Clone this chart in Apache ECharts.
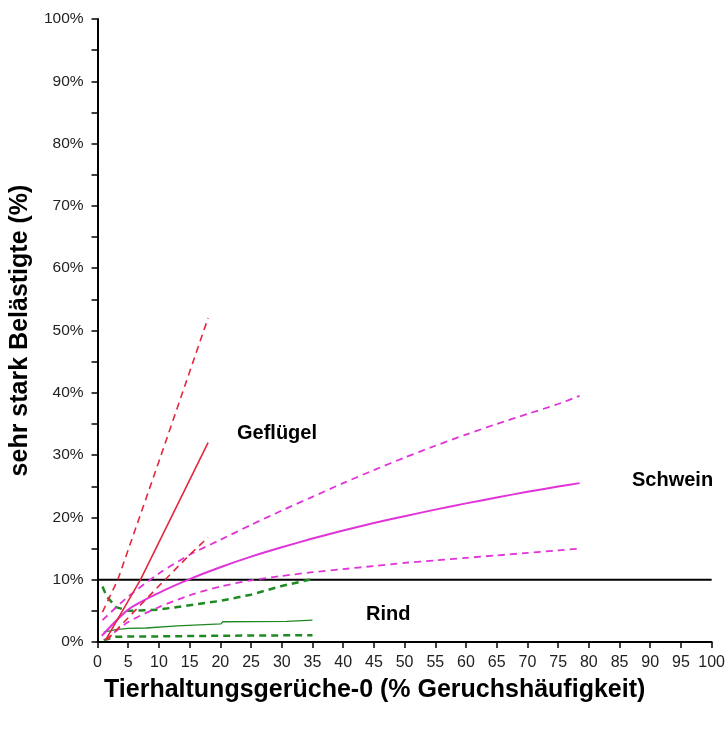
<!DOCTYPE html>
<html>
<head>
<meta charset="utf-8">
<script src="https://cdn.jsdelivr.net/npm/echarts@6/dist/echarts.min.js"></script>
<style>
html,body{margin:0;padding:0;background:#fff;}
#chart{width:728px;height:729px;}
</style>
</head>
<body>
<div id="chart"></div>
<script>
// ---- Data (x: % Geruchshäufigkeit, y: % sehr stark Belästigte) ----
const xTicks = [0,5,10,15,20,25,30,35,40,45,50,55,60,65,70,75,80,85,90,95,100];

const gefluegelX      = [1.3, 7, 18];
const gefluegelY      = [0.3, 10, 32];
const gefluegelUpperX = [0.8, 3.3, 10, 18];
const gefluegelUpperY = [4.8, 10, 29, 52];
const gefluegelLowerX = [1.5, 5, 10, 15, 18];
const gefluegelLowerY = [0.3, 3.9, 9.0, 14, 16.8];

const schweinX      = [0.7, 5, 10, 15, 20, 25, 30, 35, 40, 45, 50, 55, 60, 65, 70, 75, 78.5];
const schweinY      = [1.0, 5.2, 7.9, 10.1, 12.0, 13.7, 15.2, 16.6, 17.9, 19.1, 20.2, 21.25, 22.25, 23.2, 24.1, 24.95, 25.5];
const schweinUpperX = [0.8, 5, 10, 15, 20, 25, 30, 35, 40, 45, 50, 55, 60, 65, 70, 75, 78.5];
const schweinUpperY = [3.5, 7.3, 11, 14, 16.4, 18.8, 21.1, 23.3, 25.5, 27.6, 29.6, 31.5, 33.3, 35.0, 36.6, 38.2, 39.5];
const schweinLowerX = [1.2, 5, 10, 15, 20, 25, 30, 35, 40, 45, 50, 55, 60, 65, 70, 75, 78.5];
const schweinLowerY = [0.3, 3.2, 5.6, 7.5, 8.9, 9.9, 10.6, 11.2, 11.7, 12.2, 12.7, 13.1, 13.5, 13.9, 14.3, 14.7, 15.0];

const rindX      = [1, 3, 5, 7.9, 8.2, 13, 13.3, 20.1, 20.4, 30.8, 31.1, 35];
const rindY      = [1.6, 2.0, 2.2, 2.25, 2.55, 2.6, 2.85, 2.9, 3.25, 3.3, 3.5, 3.5];
const rindUpperX = [0.8, 1.5, 3, 5, 10, 15, 20, 25, 30, 35];
const rindUpperY = [8.9, 7.3, 5.6, 5.0, 5.2, 5.9, 6.6, 7.6, 9.0, 10.1];
const rindLowerX = [1, 3, 10, 20, 35];
const rindLowerY = [0.3, 0.85, 0.9, 1.0, 1.1];

const refLineX = [0, 100];
const refLineY = [10, 10];

const labels = [
  { text: 'Geflügel', x: 237, y: 433 },
  { text: 'Schwein',  x: 632, y: 480 },
  { text: 'Rind',     x: 366, y: 614 }
];

// ---- Build ----
function pairs(xs, ys){ return xs.map((x,i)=>[x, ys[i]]); }

const RED = '#e5263f';
const MAG = '#e034d8';
const GREEN = '#1f8a24';

function lineSeries(name, xs, ys, color, width, dashed, smooth, z){
  return {
    name: name, type: 'line', data: pairs(xs, ys),
    showSymbol: false, symbol: 'none', smooth: smooth ? 0.25 : false,
    lineStyle: { color: color, width: width, type: dashed ? dashed : 'solid' },
    silent: true, animation: false, z: z || 2
  };
}

const chart = echarts.init(document.getElementById('chart'), null, {renderer: 'canvas'});
const axisCommon = {
  axisLine: { show: true, onZero: false, lineStyle: { color: '#000', width: 2 } },
  axisTick: { show: true, inside: false, length: 6, lineStyle: { color: '#000', width: 1.5 } },
  splitLine: { show: false }
};

chart.setOption({
  backgroundColor: '#fff',
  animation: false,
  grid: { left: 96, right: 14, top: 19, bottom: 87, containLabel: false },
  xAxis: Object.assign({
    type: 'value', min: 0, max: 100, interval: 5,
    axisLabel: { color: '#222', fontFamily: 'Liberation Sans, Arial', fontSize: 16, margin: 13, showMaxLabel: true,
      formatter: v => xTicks.indexOf(v) >= 0 ? String(v) : '' }
  }, axisCommon),
  yAxis: Object.assign({
    type: 'value', min: 0, max: 100, interval: 10,
    minorTick: { show: true, splitNumber: 2, length: 6, lineStyle: { color: '#000', width: 1.5 } },
    minorSplitLine: { show: false },
    axisLabel: { color: '#222', fontFamily: 'Liberation Sans, Arial', fontSize: 15.5, margin: 14, formatter: '{value}%' },
    name: 'sehr stark Belästigte (%)', nameLocation: 'middle', nameGap: 63, nameRotate: 90,
    nameTextStyle: { color: '#000', fontFamily: 'Liberation Sans, Arial', fontWeight: 'bold', fontSize: 25 }
  }, axisCommon),
  graphic: [
    { type: 'text', left: 104, top: 678, style: { text: 'Tierhaltungsgerüche-0 (% Geruchshäufigkeit)', fill: '#000',
      font: 'bold 25px "Liberation Sans", Arial' } }
  ].concat(labels.map(l => ({ type: 'text', x: l.x, y: l.y,
      style: { text: l.text, fill: '#000', font: 'bold 20px "Liberation Sans", Arial', textVerticalAlign: 'middle', verticalAlign: 'middle' } }))),
  series: [
    lineSeries('ref', refLineX, refLineY, '#000', 2, null, false, 1),
    lineSeries('Rind unten', rindLowerX, rindLowerY, GREEN, 2.5, [7,5], false),
    lineSeries('Rind oben', rindUpperX, rindUpperY, GREEN, 2.5, [7,5], false),
    lineSeries('Rind', rindX, rindY, GREEN, 1.3, null, false),
    lineSeries('Schwein unten', schweinLowerX, schweinLowerY, MAG, 1.8, [7,5], true),
    lineSeries('Schwein oben', schweinUpperX, schweinUpperY, MAG, 1.8, [7,5], true),
    lineSeries('Schwein', schweinX, schweinY, MAG, 2, null, true),
    lineSeries('Geflügel unten', gefluegelLowerX, gefluegelLowerY, RED, 1.6, [7,5], false, 3),
    lineSeries('Geflügel oben', gefluegelUpperX, gefluegelUpperY, RED, 1.6, [7,5], false, 3),
    lineSeries('Geflügel', gefluegelX, gefluegelY, RED, 1.6, null, false, 3)
  ]
});
</script>
</body>
</html>
